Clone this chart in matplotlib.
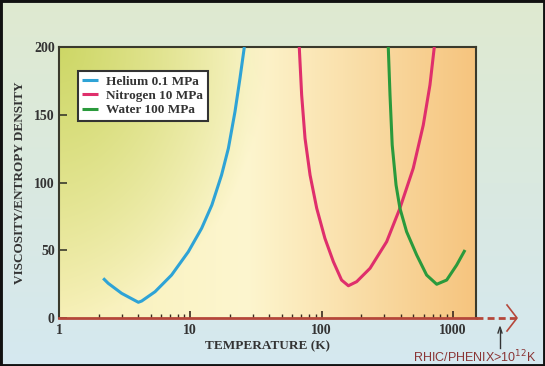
import numpy as np
import matplotlib
matplotlib.use("Agg")
import matplotlib.pyplot as plt
from matplotlib.colors import to_rgb
from matplotlib.patches import Rectangle

# ---- data ----
helium_T = [2.17, 2.37, 3.0, 4.02, 4.26, 5.39, 7.2, 9.66, 12.2, 14.6, 17.3, 19.5, 21.9, 23.9, 25.8]
helium_v = [29.3, 25.6, 18.2, 11.6, 12.5, 19.4, 31.7, 48.9, 66.2, 83.4, 105.5, 125.2, 152.3, 176.9, 200.0]

nitrogen_T = [67.6, 70.5, 74.8, 81.7, 91.8, 106, 123, 142, 160, 185, 234, 313, 395, 499, 595, 669, 722]
nitrogen_v = [200, 164.6, 132.6, 105.5, 81.0, 58.8, 41.5, 28.0, 23.8, 26.8, 36.7, 56.3, 81.0, 110.5, 142.4, 172.0, 200]

water_T = [322, 332, 345, 369, 395, 444, 530, 631, 753, 897, 1069, 1237]
water_v = [200, 164.6, 127.7, 98.2, 81.0, 63.7, 46.5, 31.7, 24.9, 28.0, 39.1, 50.2]

series_labels = ["Helium 0.1 MPa", "Nitrogen 10 MPa", "Water 100 MPa"]
x_ticks = [1, 10, 100, 1000]
y_ticks = [0, 50, 100, 150, 200]

W, H = 545, 366
fig = plt.figure(figsize=(W / 100, H / 100), dpi=100)

# figure background gradient
bg = fig.add_axes([0, 0, 1, 1], zorder=-10)
bg.set_axis_off()
top = np.array(to_rgb("#dfead0"))
bot = np.array(to_rgb("#d5e8f0"))
t = np.linspace(0, 1, 200)[:, None]
grad = top * (1 - t) + bot * t
bg.imshow(grad[:, None, :].repeat(2, axis=1), aspect="auto", extent=[0, 1, 0, 1])
bg.set_xlim(0, 1)
bg.set_ylim(0, 1)
bg.add_patch(Rectangle((0, 0), 1, 1, fill=False, edgecolor="#111111", lw=3.5,
                       transform=bg.transAxes, clip_on=False))

left, right, bottom, topf = 59 / W, 476 / W, 1 - 318 / H, 1 - 47 / H
ax = fig.add_axes([left, bottom, right - left, topf - bottom])
ax.set_facecolor("none")

# axes background gradient
nx, ny = 300, 200
xx, yy = np.meshgrid(np.linspace(0, 1, nx), np.linspace(1, 0, ny))
c_left = np.array(to_rgb("#f7f0b8"))
c_mid = np.array(to_rgb("#fdf6cf"))
c_right = np.array(to_rgb("#f6c47e"))
wr = np.clip((xx - 0.45) / 0.55, 0, 1)[..., None]
wl = np.clip((0.45 - xx) / 0.45, 0, 1)[..., None]
img = c_mid * (1 - wr - wl) + c_right * wr + c_left * wl
green = np.array(to_rgb("#cdd766"))
d = np.sqrt((xx / 0.5) ** 2 + ((1 - yy) / 1.0) ** 2)
wg = np.clip(1 - d, 0, 1)[..., None] ** 0.9
img = img * (1 - wg) + green * wg
ax.imshow(img, aspect="auto", extent=[0, 1, 0, 1], transform=ax.transAxes, zorder=0)

ax.set_xscale("log")
ax.set_xlim(1, 1500)
ax.set_ylim(0, 200)

kw = dict(lw=2.2, zorder=3, solid_joinstyle="round", solid_capstyle="butt")
ax.plot(helium_T, helium_v, color="#2ea3d6", label=series_labels[0], **kw)
ax.plot(nitrogen_T, nitrogen_v, color="#df2f6c", label=series_labels[1], **kw)
ax.plot(water_T, water_v, color="#2a9a3c", label=series_labels[2], **kw)

serif = "Liberation Serif"
for s in ["top", "left", "right"]:
    ax.spines[s].set_color("#3a3a2c")
    ax.spines[s].set_linewidth(1.5)
ax.spines["bottom"].set_color("#b5473a")
ax.spines["bottom"].set_linewidth(2)

ax.set_xticks(x_ticks)
ax.set_xticklabels([str(v) for v in x_ticks], fontfamily=serif, fontweight="bold", fontsize=10, color="#333333")
ax.set_yticks(y_ticks)
ax.set_yticklabels([str(v) for v in y_ticks], fontfamily=serif, fontweight="bold", fontsize=10, color="#333333")
ax.tick_params(axis="x", which="major", direction="in", length=5, width=1.2, color="#3a2a20", pad=4)
ax.tick_params(axis="x", which="minor", direction="in", length=3, width=1.0, color="#3a2a20")
ax.tick_params(axis="y", which="major", direction="in", length=6, width=1.2, color="#3a3a2c", pad=3)
ax.tick_params(axis="y", which="minor", left=False)

ax.set_xlabel("TEMPERATURE (K)", fontfamily=serif, fontweight="bold", fontsize=9.5, color="#333333", labelpad=3)
ax.set_ylabel("VISCOSITY/ENTROPY DENSITY", fontfamily=serif, fontweight="bold", fontsize=9.5, color="#333333", labelpad=6)

leg = ax.legend(loc="upper left", bbox_to_anchor=(0.045, 0.912), prop={"family": serif, "weight": "bold", "size": 9.5},
                frameon=True, fancybox=False, handlelength=1.2, handletextpad=0.6, labelspacing=0.15,
                borderpad=0.35, facecolor="white", edgecolor="#333333", framealpha=1,
                borderaxespad=0)
leg.get_frame().set_linewidth(1.5)
for txt in leg.get_texts():
    txt.set_color("#333333")

# extension beyond the axes: dashed line, open arrow head, marker arrow and text
y0 = 318
fig.add_artist(plt.Line2D([476 / W, 516 / W], [1 - y0 / H, 1 - y0 / H], color="#b5473a", lw=2,
                          linestyle=(0, (2.5, 1.5))))
fig.add_artist(plt.Line2D([507 / W, 517 / W, 507 / W], [1 - 305 / H, 1 - y0 / H, 1 - 331 / H],
                          color="#b5473a", lw=1.2))
fig.add_artist(plt.Line2D([500 / W, 500 / W], [1 - 348 / H, 1 - 330 / H], color="#333333", lw=1))
fig.add_artist(plt.Line2D([498 / W, 500 / W, 502 / W], [1 - 333 / H, 1 - 327 / H, 1 - 333 / H],
                          color="#333333", lw=1))
fig.text(537 / W, 1 - 357 / H, r"RHIC/PHENIX>10$^{12}$K", ha="right", va="center",
         fontfamily="Liberation Sans", fontsize=9, color="#8a3535")

fig.savefig("out.png", dpi=100)
